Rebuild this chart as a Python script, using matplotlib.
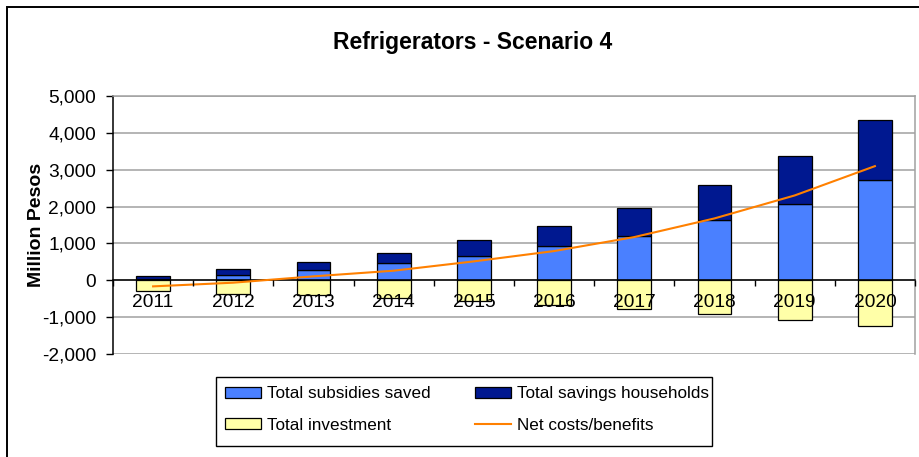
import matplotlib
matplotlib.use("Agg")
import matplotlib.pyplot as plt
from matplotlib.patches import Rectangle
from matplotlib.ticker import FuncFormatter, FixedLocator
import numpy as np

plt.rcParams['font.family'] = ['Liberation Sans', 'DejaVu Sans']

years = ["2011", "2012", "2013", "2014", "2015", "2016", "2017", "2018", "2019", "2020"]
subsidies_saved = [45, 152, 288, 460, 667, 921, 1210, 1626, 2077, 2718]
savings_households = [80, 146, 217, 290, 416, 542, 750, 966, 1301, 1627]
total_investment = [-290, -363, -398, -490, -570, -670, -787, -913, -1076, -1248]
net_costs_benefits = [-165, -65, 107, 260, 513, 793, 1173, 1679, 2302, 3097]

c_subs = "#4A80FF"
c_house = "#001890"
c_inv = "#FFFFA8"
c_net = "#FF8000"

W, H = 919, 457
fig = plt.figure(figsize=(W / 100, H / 100), dpi=100)

# outer chart frame (runs off the right and bottom edges)
fig.patches.append(Rectangle((7 / W, -0.1), 1.2, 1 - 7 / H + 0.1,
                             transform=fig.transFigure, fill=False,
                             edgecolor="black", linewidth=1.4))

ax = fig.add_axes([113 / W, (H - 354) / H, 802 / W, 258 / H])

x = np.arange(len(years))
bw = 0.42
h_subs = ax.bar(x, subsidies_saved, bw, color=c_subs, edgecolor="black",
                linewidth=0.9, zorder=2)
h_house = ax.bar(x, savings_households, bw, bottom=subsidies_saved, color=c_house,
                 edgecolor="black", linewidth=0.9, zorder=2)
h_inv = ax.bar(x, total_investment, bw, color=c_inv, edgecolor="black",
               linewidth=0.9, zorder=2)
h_net, = ax.plot(x, net_costs_benefits, color=c_net, linewidth=1.5, zorder=3)

ax.set_xlim(-0.5, len(years) - 0.5)
ax.set_ylim(-2000, 5000)
ax.set_yticks(np.arange(-2000, 5001, 1000))
ax.yaxis.set_major_formatter(FuncFormatter(lambda v, p: f"{int(v):,}"))
ax.tick_params(axis="y", direction="out", length=5, width=1, pad=7,
               labelsize=13.8, colors="black")
ax.grid(axis="y", color="#A0A0A0", linewidth=1.1)
ax.set_axisbelow(True)
ax.xaxis.set_zorder(4)

# category axis sits at zero
ax.spines["bottom"].set_position(("data", 0))
ax.spines["bottom"].set_linewidth(1.1)
ax.spines["left"].set_linewidth(1.1)
ax.spines["top"].set_color("#A0A0A0")
ax.spines["right"].set_color("#A0A0A0")
ax.spines["top"].set_linewidth(1.1)
ax.spines["right"].set_linewidth(1.1)
ax.set_xticks(x)
ax.set_xticklabels(years)
ax.xaxis.set_minor_locator(FixedLocator(np.arange(-0.5, len(years), 1.0)))
ax.tick_params(axis="x", which="major", length=0, pad=10, labelsize=13.8)
ax.tick_params(axis="x", which="minor", direction="out", length=4.5, width=1)

ax.set_ylabel("Million Pesos", fontsize=14, fontweight="bold")
ax.yaxis.set_label_coords(-0.085, 0.5)

fig.text(473 / W, 1 - 42 / H, "Refrigerators - Scenario 4", ha="center", va="center",
         fontsize=16.5, fontweight="bold")

# legend box
fig.patches.append(Rectangle((216 / W, 1 - 446 / H), 496 / W, 69 / H,
                             transform=fig.transFigure, facecolor="white",
                             edgecolor="black", linewidth=1.0, zorder=5))
leg = fig.legend([h_subs, h_inv, h_house, h_net],
                 ["Total subsidies saved", "Total investment",
                  "Total savings households", "Net costs/benefits"],
                 ncol=2, loc="upper left", bbox_to_anchor=(216 / W, 1 - 377 / H),
                 frameon=False, fontsize=12.3,
                 handlelength=2.1, handleheight=0.6, handletextpad=0.35,
                 columnspacing=2.6, labelspacing=0.96, borderpad=0.55,
                 borderaxespad=0)
leg.set_zorder(6)

fig.savefig("out.png", dpi=100)
